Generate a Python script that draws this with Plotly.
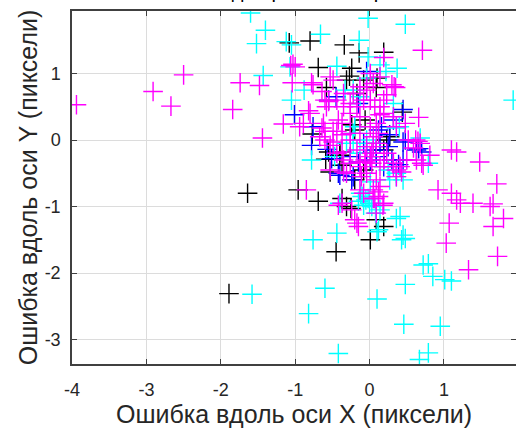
import plotly.graph_objects as go

# ---------------- data ----------------
black_x = [-1.08, -0.80, -0.34, -0.14, 0.19, -0.69, -0.24, -0.31, -0.27, -0.08, 0.10, 0.09,
           -0.58, -0.17, 0.44, -0.06, -0.20, -0.24, 0.27, -0.77, 0.23, 0.19, -0.40, -0.55,
           -0.59, -0.37, -0.53, -0.08, -0.40, -0.20, -0.96, -1.64, -0.69, -0.37, -0.31,
           -0.25, 0.09, 0.19, 0.01, -0.45, -1.89]
black_y = [1.46, 1.49, 1.43, 1.31, 1.32, 1.09, 1.08, 0.90, 0.96, 0.90, 0.93, 0.79,
           0.79, 0.70, 0.42, 0.30, 0.15, 0.23, 0.05, 0.09, 0.00, -0.15, -0.18, -0.18,
           -0.29, -0.38, -0.48, -0.45, -0.23, -0.60, -0.75, -0.80, -0.92, -0.88, -1.00,
           -1.03, -1.20, -1.30, -1.50, -1.68, -2.31]

blue_x = [-1.01, -0.76, -0.45, -0.55, -0.04, -0.78, -0.57, -0.51, -0.40, -0.24, -0.15,
          0.30, 0.39, 0.45, 0.63, 0.66, 0.45, 0.48, 0.32, 0.19, 0.09, -0.08, 0.16, -0.15,
          0.12, 0.27, -0.26, 0.01, -0.22, -0.42, 0.70, 0.14, 0.25, -0.04, 0.09, 0.45]
blue_y = [0.38, 0.20, 0.65, 0.60, 1.03, -0.08, -0.14, -0.28, -0.53, -0.60, -0.33,
          -0.30, -0.37, -0.03, -0.15, -0.13, 0.46, 0.00, 0.30, -0.40, -0.15, -0.05, 0.20, 0.55,
          0.15, 0.08, -0.25, -0.30, -0.55, -0.50, -0.18, -0.05, -0.10, -0.20, -0.25, -0.30]

cyan_x = [-1.60, -1.40, -1.52, -1.12, -1.05, -0.66, -0.02, 0.48, -0.14, -0.02, -0.44, 0.14,
          0.37, 0.22, -1.07, -1.43, -0.88, -1.05, -0.04, -0.33, 0.32, -0.20, -0.22, -0.31,
          -0.04, -0.13, 0.68, 0.79, 1.93, -0.78, 0.36, 0.25, 0.36, 0.45, -0.10, -0.05,
          0.00, -0.08, -0.02, 0.03, -0.12, -0.15, 0.08, -0.40, 0.14, 0.41, 0.36, 0.12,
          0.10, -0.44, -0.76, 0.45, 0.48, 0.43, 0.72, 0.79, 0.85, 1.01, 1.10, 0.48,
          -0.60, 0.10, -0.82, 0.46, 0.95, -0.42, 0.79, 0.67, -1.58, -0.22, 0.05, 0.36,
          0.40, -0.47, 0.27, -0.13, -0.22, 0.01]
cyan_y = [1.91, 1.65, 1.45, 1.48, 1.43, 1.59, 1.83, 1.74, 1.50, 1.25, 1.11, 1.13,
          1.08, 1.03, 1.10, 0.97, 0.75, 0.60, 0.93, 0.75, 0.55, 0.20, 0.10, -0.05,
          0.00, -0.20, 0.03, -0.35, 0.60, -0.30, -0.50, -0.45, -0.55, -0.60, -0.85, -0.90,
          -0.95, -0.98, -0.88, -1.00, -0.80, -0.92, -1.10, -0.95, -1.05, -1.15, -1.18, -1.35,
          -1.38, -1.40, -1.50, -1.43, -1.48, -1.50, -1.88, -1.86, -2.05, -2.10, -2.12, -2.17,
          -2.23, -2.39, -2.61, -2.77, -2.80, -3.21, -3.20, -3.30, -2.32, -0.05, -0.05, 0.18,
          0.20, -0.25, -0.60, 0.65, 0.75, -0.63]

magenta_x = [-3.94, -2.91, -2.67, -2.50, -1.74, -1.48, -1.84, -1.44, -1.16, -1.04, -1.03,
             -1.00, -1.06, -0.78, -0.76, -0.60, -0.58, -0.82, -0.89, -0.62, -0.80, -0.64,
             -0.60, -0.53, -0.35, -0.11, -0.06, 0.03, -0.85, -0.42, -0.24, -0.20, -0.15,
             0.12, 0.07, 0.09, 0.05, 0.12, 0.18, 0.14, 0.36, 0.41, 0.71, 0.19, 0.01,
             0.33, 0.35, 0.66, 0.48, 0.65, 0.62, 0.68, 0.81, 0.70, 0.72, 1.10, 1.17,
             1.48, 1.71, 0.92, 1.10, 1.17, 1.22, 1.39, 1.62, 1.66, 1.80, 1.66, 1.07,
             1.03, 1.72, 1.33, 0.43, 0.63, -0.53, -0.49, -0.64, -0.35, -0.26, -0.04,
             0.19, 0.23, -0.55, -0.60, -0.49, -0.42, -0.26, -0.13, 0.01, 0.05, 0.09,
             -0.04, 0.03, -0.06, -0.13, -0.26, -0.35, -0.44, -0.53, -0.67, 0.19, 0.23,
             0.32, 0.19, 0.14, 0.09, -0.13, -0.26, -0.37, -0.17, -0.13, -0.08, 0.05,
             0.19, -0.17, -0.35, -0.04, 0.01, 0.07, 0.14, 0.32, 0.36, 0.52, 0.59,
             0.12, 0.05, 0.01, -0.13, 0.14, 0.32, 0.50, -0.26, -0.37, -0.44, -0.49,
             -0.37, -0.31, -0.04, 0.09, 0.36, 0.05, 0.14, 0.30, -0.13, -0.22, -0.08,
             -0.17, -0.44, -0.94, -0.37]
magenta_y = [0.53, 0.73, 0.51, 0.98, 0.86, 0.82, 0.46, 0.03, 0.24, 0.86, 1.14,
             1.10, 1.12, 0.86, 0.83, 0.60, 0.50, 0.44, 0.25, 0.25, 0.40, 0.18,
             0.00, -0.45, -0.48, -0.55, -0.33, -0.35, -0.75, -0.98, -1.05, -1.20, -1.30,
             -0.78, -0.88, -1.10, -0.88, -0.85, -0.98, -0.70, -0.45, -0.40, 1.35, 1.24, 1.00,
             0.80, 0.79, 0.34, 0.25, -0.02, 0.00, -0.05, -0.23, -0.35, -0.38, -0.15, -0.18,
             -0.33, -0.66, -0.75, -0.80, -0.90, -0.95, -0.95, -1.00, -0.96, -1.18, -1.30, -1.25,
             -1.55, -1.75, -1.95, -0.48, -0.30, 0.95, 0.90, 0.73, 0.70, 0.55, 0.80,
             0.60, 0.68, 0.58, 0.13, 0.13, 0.30, 0.40, 0.35, 0.20, 0.05, -0.05,
             -0.10, -0.20, -0.30, -0.40, -0.35, -0.30, -0.20, -0.08, 0.05, -0.30, -0.20,
             -0.35, 0.40, 0.50, 0.25, 0.10, 0.00, 0.08, -0.15, -0.75, -0.80, -0.75,
             -0.95, -1.25, 0.50, 0.75, 0.60, 0.50, 0.38, 0.35, 0.20, 0.00, -0.12,
             0.10, -0.10, -0.25, -0.33, -0.40, -0.40, -0.30, 0.10, 0.25, 0.13, -0.03,
             -0.18, -0.50, -0.50, -0.60, -0.55, 0.85, 0.95, 0.83, 0.80, 0.70, 0.60,
             0.50, 0.60, 0.20, -0.95]

x_ticks = [-4, -3, -2, -1, 0, 1]
x_tick_labels = ["-4", "-3", "-2", "-1", "0", "1"]
y_ticks = [-3, -2, -1, 0, 1]
y_tick_labels = ["-3", "-2", "-1", "0", "1"]

title_text = "Ошибки для разных скоростей"
x_title = "Ошибка вдоль оси X (пиксели)"
y_title = "Ошибка вдоль оси Y (пиксели)"

# ---------------- figure ----------------
series = [
    (black_x, black_y, "#000000"),
    (blue_x, blue_y, "#0000ff"),
    (cyan_x, cyan_y, "#00ffff"),
    (magenta_x, magenta_y, "#ff00ff"),
]

fig = go.Figure()
for xs, ys, col in series:
    fig.add_trace(go.Scatter(
        x=xs, y=ys, mode="markers",
        marker=dict(symbol="cross-thin", size=14, color=col,
                    line=dict(color=col, width=1.4)),
        showlegend=False, hoverinfo="skip",
    ))

font_family = "Liberation Sans, Arial, sans-serif"
axis_common = dict(
    ticks="inside", ticklen=5, tickwidth=1, tickcolor="#404040",
    showline=True, linecolor="#404040", linewidth=1.5, mirror="ticks",
    showgrid=True, gridcolor="#dcdcdc", gridwidth=1, zeroline=False,
    tickfont=dict(family=font_family, size=18, color="#262626"),
    automargin=False,
)

fig.update_layout(
    width=516, height=430,
    margin=dict(l=72, r=0, t=11, b=66),
    paper_bgcolor="white", plot_bgcolor="white",
    font=dict(family=font_family, color="#262626"),
    xaxis=dict(range=[-4, 1.968], tickvals=x_ticks, ticktext=x_tick_labels,
               ticklabelstandoff=9,
               title=dict(text=x_title, font=dict(size=25, color="#262626"), standoff=0),
               **axis_common),
    yaxis=dict(range=[-3.368, 1.94], tickvals=y_ticks, ticktext=y_tick_labels,
               ticklabelstandoff=6,
               title=dict(text=y_title, font=dict(size=25, color="#262626"), standoff=0),
               **axis_common),
    annotations=[dict(text=title_text, xref="paper", yref="paper", x=0.5, y=1.019,
                      xanchor="center", yanchor="bottom", showarrow=False,
                      font=dict(family=font_family, size=20, color="#000000"))],
)

fig.write_html("out.html", config={"displayModeBar": False},
               post_script="document.body.style.margin='0';")
